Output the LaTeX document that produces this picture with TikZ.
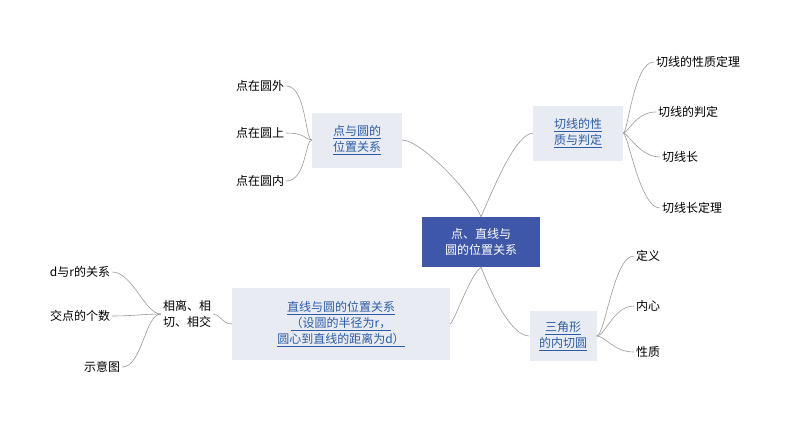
\documentclass[tikz,border=0pt]{standalone}
\usepackage{fontspec}
\setmainfont{Noto Sans CJK SC}
\usetikzlibrary{positioning,calc}
\definecolor{mainblue}{HTML}{3F57A8}
\definecolor{topicbg}{HTML}{E9EBF2}
\definecolor{linkblue}{HTML}{2A5CA8}
\definecolor{branch}{HTML}{9A9A9A}
\tikzset{
  rootbox/.style={fill=mainblue,text=white,align=center,font=\fontsize{12}{16}\selectfont,inner sep=4pt,minimum width=118pt,minimum height=50pt},
  topicbox/.style={fill=topicbg,text=linkblue,align=center,font=\fontsize{12}{16}\selectfont,inner sep=4pt},
  leaf/.style={font=\fontsize{12}{16}\selectfont,inner sep=2pt},
  link/.style={draw=branch,line width=0.6pt}
}
\newcommand{\ul}[1]{\underline{#1}}
\begin{document}
\begin{tikzpicture}[x=1pt,y=-1pt]
\useasboundingbox[fill=white] (0,0) rectangle (794,447);
% root and topics
\node[rootbox] (root) at (481,242) {点、直线与\\圆的位置关系};
\node[topicbox,minimum width=90pt,minimum height=55pt] (point) at (357,140) {\ul{点与圆的}\\\ul{位置关系}};
\node[topicbox,minimum width=90pt,minimum height=55pt] (tangent) at (578,133) {\ul{切线的性}\\\ul{质与判定}};
\node[topicbox,minimum width=67pt,minimum height=50pt] (incircle) at (563,336) {\ul{三角形}\\\ul{的内切圆}};
\node[topicbox,minimum width=218pt,minimum height=72pt,inner sep=2pt] (line) at (341,324) {\ul{直线与圆的位置关系}\\\ul{（设圆的半径为r，}\\\ul{圆心到直线的距离为d）}};
% leaves
\node[leaf] (p1) at (260,86) {点在圆外};
\node[leaf] (p2) at (260,133) {点在圆上};
\node[leaf] (p3) at (260,181) {点在圆内};
\node[leaf] (t1) at (698,62) {切线的性质定理};
\node[leaf] (t2) at (688,112) {切线的判定};
\node[leaf] (t3) at (680,157) {切线长};
\node[leaf] (t4) at (692,208) {切线长定理};
\node[leaf] (i1) at (648,256) {定义};
\node[leaf] (i2) at (648,306) {内心};
\node[leaf] (i3) at (648,352) {性质};
\node[leaf,align=center] (rel) at (187,314) {相离、相\\切、相交};
\node[leaf] (r1) at (80,272) {d与r的关系};
\node[leaf] (r2) at (80,316) {交点的个数};
\node[leaf] (r3) at (102,367) {示意图};
% branches from root
\draw[link] (root.north) .. controls (470,190) and (420,140) .. (point.east);
\draw[link] (root.north) .. controls (495,185) and (515,135) .. (tangent.west);
\draw[link] (root.south) .. controls (490,290) and (510,336) .. (incircle.west);
\draw[link] (root.south) .. controls (470,275) and (455,320) .. (line.east);
% sub-branches
\foreach \n in {p1,p2,p3}
  \draw[link] (point.west) .. controls (305,140) and ($(\n.east)+(20,0)$) .. (\n.east);
\foreach \n in {t1,t2,t3,t4}
  \draw[link] (tangent.east) .. controls (628,133) and ($(\n.west)+(-20,0)$) .. (\n.west);
\foreach \n in {i1,i2,i3}
  \draw[link] (incircle.east) .. controls (605,336) and ($(\n.west)+(-20,0)$) .. (\n.west);
\draw[link] (line.west) .. controls (222,324) and (220,314) .. (rel.east);
\foreach \n in {r1,r2,r3}
  \draw[link] (rel.west) .. controls (145,314) and ($(\n.east)+(20,0)$) .. (\n.east);
\end{tikzpicture}
\end{document}
